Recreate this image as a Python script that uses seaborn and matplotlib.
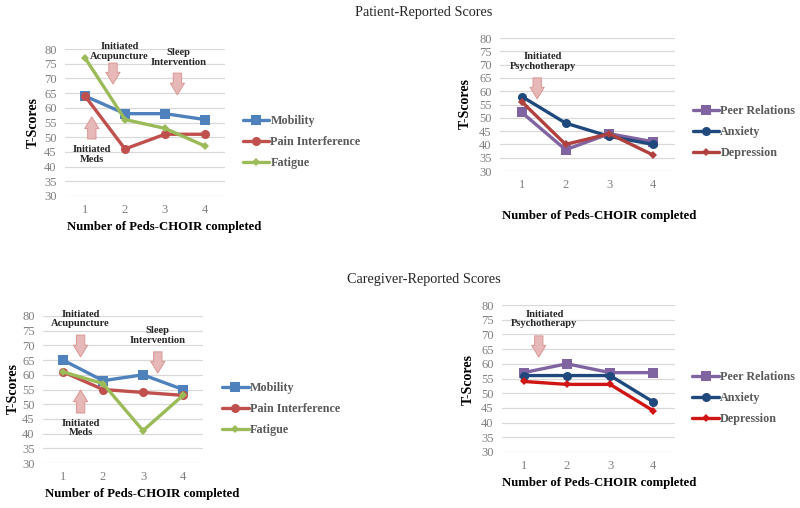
import pandas as pd
import seaborn as sns
import matplotlib.pyplot as plt

# data
visits = [1, 2, 3, 4]

pat_phys_names = ["Mobility", "Pain Interference", "Fatigue"]
pat_mobility = [64, 58, 58, 56]
pat_pain = [64, 46, 51, 51]
pat_fatigue = [77, 56, 53, 47]

pat_psych_names = ["Peer Relations", "Anxiety", "Depression"]
pat_peer = [52, 38, 44, 41]
pat_anxiety = [58, 48, 43, 40]
pat_depression = [56, 40, 44, 36]

care_mobility = [65, 58, 60, 55]
care_pain = [61, 55, 54, 53]
care_fatigue = [61, 57, 41, 53]

care_peer = [57, 60, 57, 57]
care_anxiety = [56, 56, 56, 47]
care_depression = [54, 53, 53, 44]

sns.set_theme(style="white")
plt.rcParams["font.family"] = ["Liberation Serif", "DejaVu Serif"]

PINK = "#E6B9B8"
PINK_EDGE = "#D99694"
GREY = "#7F7F7F"
LEG_GREY = "#595959"


def long_df(names, series):
    rows = []
    for name, vals in zip(names, series):
        for v, y in zip(visits, vals):
            rows.append({"visit": v, "score": y, "measure": name})
    return pd.DataFrame(rows)


def panel(ax, names, series, colors, markers, msizes, leg_xy, xlab_xy, ylab_xy):
    df = long_df(names, series)
    sns.lineplot(data=df, x="visit", y="score", hue="measure", style="measure",
                 palette=dict(zip(names, colors)), markers=dict(zip(names, markers)),
                 dashes=False, linewidth=2.4, markeredgewidth=0, legend=False, ax=ax)
    lines = ax.get_lines()
    for ln, ms in zip(lines, msizes):
        ln.set_markersize(ms)
    ax.set_xlim(0.5, 4.5)
    ax.set_ylim(30, 80)
    ax.set_xticks(visits)
    ax.set_yticks(range(30, 81, 5))
    ax.grid(axis="y", color="#D9D9D9", linewidth=0.9)
    ax.set_axisbelow(True)
    for s in ax.spines.values():
        s.set_visible(False)
    ax.tick_params(axis="both", length=0, labelsize=9, labelcolor=GREY, pad=6)
    ax.set_xlabel("Number of Peds-CHOIR completed", fontsize=9.2, fontweight="bold", color="black")
    ax.set_ylabel("T-Scores", fontsize=10, fontweight="bold", color="black")
    ax.xaxis.set_label_coords(*xlab_xy)
    ax.yaxis.set_label_coords(*ylab_xy)
    ax.legend(lines, names, loc="center left", bbox_to_anchor=leg_xy, frameon=False,
              labelcolor=LEG_GREY, prop={"weight": "bold", "size": 8.7},
              handlelength=2.2, handletextpad=0.1, labelspacing=0.75,
              borderpad=0, borderaxespad=0)


def note(ax, x, y, txt):
    ax.text(x, y, txt, ha="center", va="center", fontsize=7.6, fontweight="bold",
            linespacing=1.1, clip_on=False)


def arrow(ax, x, y_tail, y_head):
    ax.annotate("", xy=(x, y_head), xytext=(x, y_tail), annotation_clip=False,
                arrowprops=dict(arrowstyle="simple,head_length=0.7,head_width=0.85,tail_width=0.5",
                                mutation_scale=12, fc=PINK, ec=PINK_EDGE, lw=0.7,
                                shrinkA=0, shrinkB=0))


fig = plt.figure(figsize=(8, 5.08), dpi=100)
fig.text(0.53, 0.976, "Patient-Reported Scores", ha="center", va="center", fontsize=10.3)
fig.text(0.53, 0.449, "Caregiver-Reported Scores", ha="center", va="center", fontsize=10.3)

phys_colors = ["#4F81BD", "#C0504D", "#9BBB59"]
phys_markers = ["s", "o", "D"]
phys_ms = [6.5, 6.5, 4.5]
psych_markers = ["s", "o", "D"]
psych_ms = [6.5, 6.5, 4.5]

# top left: patient physical
ax1 = fig.add_axes([65 / 800, 1 - 196 / 508, 160 / 800, 147 / 508])
panel(ax1, pat_phys_names, [pat_mobility, pat_pain, pat_fatigue], phys_colors,
      phys_markers, phys_ms, (1.11, 0.367), (0.62, -0.17), (-0.155, 0.5))
note(ax1, 1.86, 79.1, "Initiated\nAcupuncture")
arrow(ax1, 1.70, 75.2, 68.1)
note(ax1, 3.33, 77.1, "Sleep\nIntervention")
arrow(ax1, 3.31, 71.8, 64.4)
arrow(ax1, 1.17, 49.4, 56.9)
note(ax1, 1.17, 44.1, "Initiated\nMeds")

# top right: patient psychological
ax2 = fig.add_axes([500 / 800, 1 - 171 / 508, 175 / 800, 133 / 508])
panel(ax2, pat_psych_names, [pat_peer, pat_anxiety, pat_depression],
      ["#8064A2", "#1F497D", "#B0413E"], psych_markers, psych_ms,
      (1.10, 0.293), (0.566, -0.29), (-0.16, 0.51))
note(ax2, 1.48, 71.2, "Initiated\nPsychotherapy")
arrow(ax2, 1.35, 65.0, 57.1)

# bottom left: caregiver physical
ax3 = fig.add_axes([43 / 800, 1 - 463 / 508, 160 / 800, 147 / 508])
panel(ax3, pat_phys_names, [care_mobility, care_pain, care_fatigue], phys_colors,
      phys_markers, phys_ms, (1.12, 0.367), (0.62, -0.17), (-0.145, 0.51))
note(ax3, 1.44, 79.0, "Initiated\nAcupuncture")
arrow(ax3, 1.44, 73.5, 66.1)
note(ax3, 3.37, 73.4, "Sleep\nIntervention")
arrow(ax3, 3.37, 67.8, 60.6)
arrow(ax3, 1.44, 47.0, 54.8)
note(ax3, 1.44, 41.9, "Initiated\nMeds")

# bottom right: caregiver psychological
ax4 = fig.add_axes([502 / 800, 1 - 452 / 508, 173 / 800, 147 / 508])
panel(ax4, pat_psych_names, [care_peer, care_anxiety, care_depression],
      ["#8064A2", "#1F497D", "#D01515"], psych_markers, psych_ms,
      (1.10, 0.367), (0.561, -0.17), (-0.16, 0.49))
note(ax4, 1.48, 75.2, "Initiated\nPsychotherapy")
arrow(ax4, 1.35, 69.5, 62.3)

fig.savefig("out.png", dpi=100)
